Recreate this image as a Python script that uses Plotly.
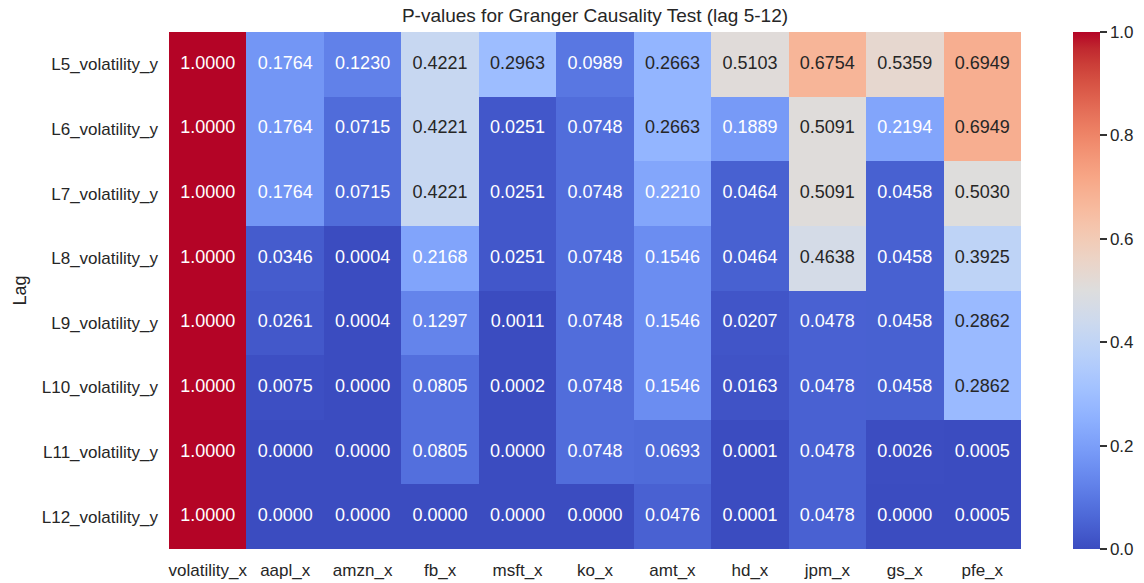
import plotly.graph_objects as go

title = "P-values for Granger Causality Test (lag 5-12)"
x_labels = ["volatility_x", "aapl_x", "amzn_x", "fb_x", "msft_x", "ko_x", "amt_x", "hd_x", "jpm_x", "gs_x", "pfe_x"]
y_labels = ["L5_volatility_y", "L6_volatility_y", "L7_volatility_y", "L8_volatility_y",
            "L9_volatility_y", "L10_volatility_y", "L11_volatility_y", "L12_volatility_y"]

row_L5 = [1.0, 0.1764, 0.1230, 0.4221, 0.2963, 0.0989, 0.2663, 0.5103, 0.6754, 0.5359, 0.6949]
row_L6 = [1.0, 0.1764, 0.0715, 0.4221, 0.0251, 0.0748, 0.2663, 0.1889, 0.5091, 0.2194, 0.6949]
row_L7 = [1.0, 0.1764, 0.0715, 0.4221, 0.0251, 0.0748, 0.2210, 0.0464, 0.5091, 0.0458, 0.5030]
row_L8 = [1.0, 0.0346, 0.0004, 0.2168, 0.0251, 0.0748, 0.1546, 0.0464, 0.4638, 0.0458, 0.3925]
row_L9 = [1.0, 0.0261, 0.0004, 0.1297, 0.0011, 0.0748, 0.1546, 0.0207, 0.0478, 0.0458, 0.2862]
row_L10 = [1.0, 0.0075, 0.0000, 0.0805, 0.0002, 0.0748, 0.1546, 0.0163, 0.0478, 0.0458, 0.2862]
row_L11 = [1.0, 0.0000, 0.0000, 0.0805, 0.0000, 0.0748, 0.0693, 0.0001, 0.0478, 0.0026, 0.0005]
row_L12 = [1.0, 0.0000, 0.0000, 0.0000, 0.0000, 0.0000, 0.0476, 0.0001, 0.0478, 0.0000, 0.0005]
z = [row_L5, row_L6, row_L7, row_L8, row_L9, row_L10, row_L11, row_L12]

coolwarm_rgb = [
    (59, 76, 192), (68, 90, 204), (77, 104, 215), (87, 117, 225), (98, 130, 234),
    (108, 142, 241), (119, 154, 247), (130, 165, 251), (141, 176, 254), (152, 185, 255),
    (163, 194, 255), (174, 201, 253), (184, 208, 249), (194, 213, 244), (204, 217, 238),
    (213, 219, 230), (221, 221, 221), (229, 216, 209), (236, 211, 197), (241, 204, 184),
    (245, 196, 172), (247, 187, 159), (247, 177, 147), (247, 166, 134), (244, 154, 123),
    (241, 141, 111), (236, 127, 99), (229, 112, 89), (222, 96, 77), (213, 80, 66),
    (203, 62, 56), (192, 40, 47), (180, 4, 38)]
n = len(coolwarm_rgb) - 1
colorscale = [[i / n, "rgb(%d,%d,%d)" % c] for i, c in enumerate(coolwarm_rgb)]

FONT = "Liberation Sans, Arial, sans-serif"
TXT = "#262626"

fig = go.Figure()
fig.add_trace(go.Heatmap(
    z=z, x=x_labels, y=y_labels, colorscale=colorscale, zmin=0, zmax=1,
    hoverongaps=False,
    colorbar=dict(
        x=1.061, xanchor="left", xref="paper", y=0, yanchor="bottom", len=1, lenmode="fraction",
        xpad=0, ypad=0,
        thickness=27, outlinewidth=0, ticks="outside", ticklen=7, tickwidth=1.5, tickcolor="#333",
        tickvals=[0, 0.2, 0.4, 0.6, 0.8, 1.0], ticktext=["0.0", "0.2", "0.4", "0.6", "0.8", "1.0"],
        tickfont=dict(family=FONT, size=17, color=TXT),
    ),
))

# annotation text through a scatter text trace
tx, ty, tt, tc = [], [], [], []
for yi, row in zip(y_labels, z):
    for xi, v in zip(x_labels, row):
        tx.append(xi)
        ty.append(yi)
        tt.append("%.4f" % v)
        tc.append(TXT if 0.24 < v < 0.76 else "#ffffff")
fig.add_trace(go.Scatter(
    x=tx, y=ty, text=tt, mode="text", textposition="middle center",
    textfont=dict(family=FONT, size=18, color=tc), hoverinfo="skip", showlegend=False,
))

fig.update_layout(
    width=1144, height=583,
    margin=dict(l=169, r=123, t=32, b=34, autoexpand=False),
    paper_bgcolor="white", plot_bgcolor="white",
    title=dict(text=title, x=595 / 1144, xanchor="center", y=1 - 15 / 583, yanchor="middle",
               font=dict(family=FONT, size=19, color=TXT)),
    font=dict(family=FONT, color=TXT),
    xaxis=dict(showgrid=False, zeroline=False, ticks="", tickfont=dict(size=17), showline=False,
               automargin=False, ticklabelstandoff=9, range=[-0.5, len(x_labels) - 0.5]),
    yaxis=dict(showgrid=False, zeroline=False, ticks="", tickfont=dict(size=17),
               range=[len(y_labels) - 0.5, -0.5],
               automargin=False, ticklabelstandoff=10,
               title=dict(text="Lag", font=dict(size=18), standoff=10), showline=False),
)

fig.write_html("out.html", config={"displayModeBar": False},
               post_script="document.body.style.margin='0px';")
